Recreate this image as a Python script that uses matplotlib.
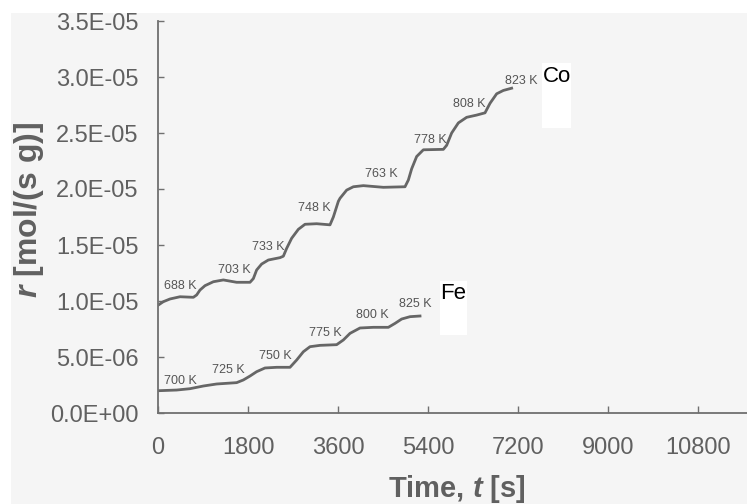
"""
Velocidad de reacción frente al tiempo para Co y Fe, con escalones de temperatura.
Output: out.png
"""

import matplotlib
matplotlib.use("Agg")
import matplotlib.pyplot as plt
import matplotlib.patches as mpatches

plt.rcParams["font.family"] = ["Liberation Sans", "DejaVu Sans"]
plt.rcParams["mathtext.fontset"] = "custom"
plt.rcParams["mathtext.it"] = "Liberation Sans:italic:bold"
plt.rcParams["mathtext.rm"] = "Liberation Sans:bold"

# --- Co ---
t_co = [7, 107, 240, 440, 707, 773, 840, 940, 1107, 1307, 1573, 1840, 1907,
        1973, 2073, 2207, 2440, 2507, 2573, 2673, 2807, 2940, 3173, 3440, 3507,
        3607, 3640, 3773, 3907, 4107, 4507, 4940, 5007, 5073, 5173, 5307, 5707,
        5773, 5873, 6007, 6173, 6373, 6540, 6640, 6773, 6907, 7073]
r_co = [9.64e-6, 9.94e-6, 1.018e-5, 1.038e-5, 1.033e-5, 1.054e-5, 1.098e-5,
        1.137e-5, 1.172e-5, 1.188e-5, 1.167e-5, 1.167e-5, 1.20e-5, 1.277e-5,
        1.33e-5, 1.366e-5, 1.387e-5, 1.40e-5, 1.47e-5, 1.56e-5, 1.64e-5,
        1.685e-5, 1.69e-5, 1.68e-5, 1.75e-5, 1.89e-5, 1.917e-5, 1.99e-5,
        2.02e-5, 2.03e-5, 2.015e-5, 2.02e-5, 2.08e-5, 2.18e-5, 2.29e-5,
        2.35e-5, 2.354e-5, 2.39e-5, 2.50e-5, 2.59e-5, 2.64e-5, 2.66e-5,
        2.68e-5, 2.765e-5, 2.85e-5, 2.88e-5, 2.90e-5]

# --- Fe ---
t_fe = [7, 373, 640, 907, 1173, 1573, 1707, 1840, 1973, 2140, 2373, 2640,
        2773, 2907, 3040, 3240, 3573, 3707, 3840, 4040, 4307, 4607, 4740,
        4873, 5040, 5240]
r_fe = [1.99e-6, 2.05e-6, 2.17e-6, 2.41e-6, 2.59e-6, 2.71e-6, 2.95e-6,
        3.30e-6, 3.69e-6, 4.02e-6, 4.08e-6, 4.08e-6, 4.73e-6, 5.47e-6,
        5.92e-6, 6.04e-6, 6.10e-6, 6.52e-6, 7.11e-6, 7.59e-6, 7.65e-6,
        7.65e-6, 8.0e-6, 8.39e-6, 8.6e-6, 8.66e-6]

# etiquetas de temperatura (texto, t, r)
temps_co = ["688 K", "703 K", "733 K", "748 K", "763 K", "778 K", "808 K", "823 K"]
pos_co = [(440, 1.134e-5), (1526, 1.277e-5), (2206, 1.48e-5), (3126, 1.828e-5),
          (4474, 2.131e-5), (5440, 2.4375e-5), (6226, 2.756e-5), (7260, 2.967e-5)]
temps_fe = ["700 K", "725 K", "750 K", "775 K", "800 K", "825 K"]
pos_fe = [(440, 2.88e-6), (1406, 3.84e-6), (2340, 5.09e-6), (3340, 7.17e-6),
          (4294, 8.75e-6), (5140, 9.73e-6)]

gris = "#606060"
fondo = "#f5f5f5"

fig = plt.figure(figsize=(7.47, 5.04), dpi=100, facecolor="white")
fig.patches.append(mpatches.Rectangle((11 / 747, 0), 1, 1 - 13 / 504,
                                      transform=fig.transFigure,
                                      facecolor=fondo, edgecolor="none",
                                      zorder=-10))
ax = fig.add_axes([158 / 747, 1 - 413 / 504, 1 - 158 / 747, (413 - 21) / 504])
ax.set_facecolor("none")

ax.plot(t_co, r_co, color="#666666", lw=2)
ax.plot(t_fe, r_fe, color="#666666", lw=2)

for lab, (x, y) in zip(temps_co, pos_co):
    ax.text(x, y, lab, fontsize=9, color="#555555", ha="center", va="center")
for lab, (x, y) in zip(temps_fe, pos_fe):
    ax.text(x, y, lab, fontsize=9, color="#555555", ha="center", va="center")

# recuadros blancos con el nombre del metal
ax.add_patch(mpatches.Rectangle((7680, 2.545e-5), 580, 0.58e-5,
                                facecolor="white", edgecolor="none", zorder=3))
ax.text(7690, 3.0e-5, "Co", fontsize=16, color="black", va="center",
        ha="left", zorder=4)
ax.add_patch(mpatches.Rectangle((5640, 6.96e-6), 540, 4.79e-6,
                                facecolor="white", edgecolor="none", zorder=3))
ax.text(5650, 1.07e-5, "Fe", fontsize=16, color="black", va="center",
        ha="left", zorder=4)

ax.set_xlim(0, 11780)
ax.set_ylim(0, 3.5e-5)
ax.set_xticks([0, 1800, 3600, 5400, 7200, 9000, 10800])
yt = [0, 5e-6, 1e-5, 1.5e-5, 2e-5, 2.5e-5, 3e-5, 3.5e-5]
ax.set_yticks(yt)
ax.set_yticklabels(["0.0E+00", "5.0E-06", "1.0E-05", "1.5E-05", "2.0E-05",
                    "2.5E-05", "3.0E-05", "3.5E-05"])

for s in ["top", "right"]:
    ax.spines[s].set_visible(False)
for s in ["left", "bottom"]:
    ax.spines[s].set_color("#707070")
    ax.spines[s].set_linewidth(1.3)

ax.tick_params(axis="x", direction="in", length=5, width=1, color="#707070",
               labelsize=17, labelcolor=gris, pad=17)
ax.tick_params(axis="y", direction="in", length=4, width=1, color="#707070",
               labelsize=17, labelcolor=gris, pad=14)

fig.text(457 / 747, 1 - 497 / 504, "Time, $t$ [s]", fontsize=21,
         fontweight="bold", color=gris, ha="center", va="baseline")
fig.text(29 / 747, 1 - 210 / 504, "$r$ [mol/(s g)]", fontsize=23,
         fontweight="bold", color=gris, ha="center", va="center",
         rotation=90)

fig.savefig("out.png", dpi=100, facecolor="white")
plt.close(fig)
